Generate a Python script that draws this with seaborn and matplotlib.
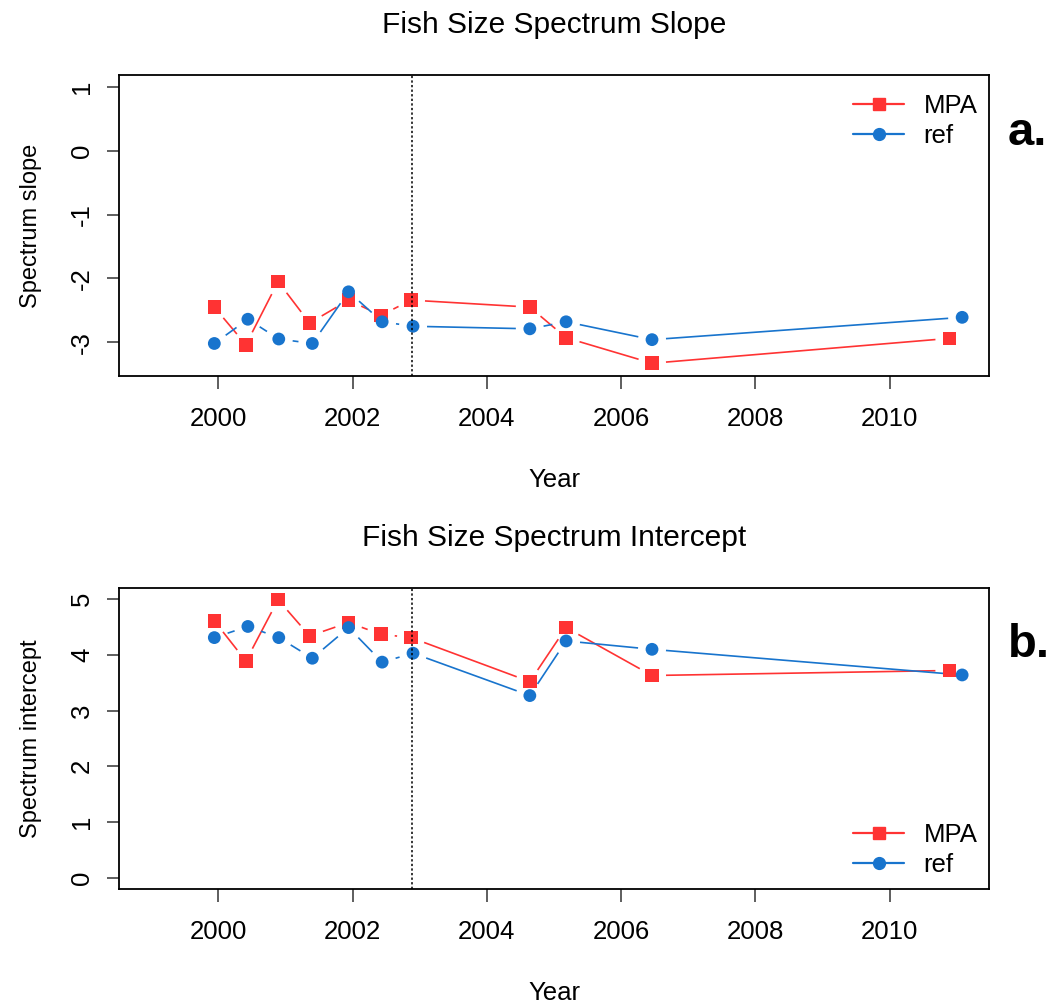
import numpy as np
import matplotlib
matplotlib.use('Agg')
import matplotlib.pyplot as plt
import seaborn as sns
from matplotlib.lines import Line2D

# Survey dates (decimal years) and spectrum estimates
mpa_year = [1999.94, 2000.41, 2000.89, 2001.36, 2001.94, 2002.42, 2002.87,
            2004.64, 2005.18, 2006.46, 2010.89]
ref_year = [1999.94, 2000.44, 2000.90, 2001.40, 2001.94, 2002.44, 2002.90,
            2004.64, 2005.18, 2006.46, 2011.08]

mpa_slope = [-2.45, -3.04, -2.05, -2.70, -2.34, -2.58, -2.34, -2.45, -2.93, -3.33, -2.94]
ref_slope = [-3.02, -2.64, -2.95, -3.02, -2.21, -2.68, -2.75, -2.79, -2.68, -2.96, -2.61]

mpa_intercept = [4.61, 3.89, 4.99, 4.34, 4.58, 4.37, 4.31, 3.52, 4.49, 3.63, 3.72]
ref_intercept = [4.31, 4.51, 4.31, 3.94, 4.49, 3.87, 4.03, 3.27, 4.25, 4.10, 3.64]

mpa_start = 2002.88  # vertical reference line

# Style
sns.set_theme(style='ticks')
plt.rcParams['font.family'] = ['Liberation Sans', 'DejaVu Sans']
plt.rcParams['axes.unicode_minus'] = False
for k in ['text.color', 'axes.labelcolor', 'xtick.labelcolor', 'ytick.labelcolor']:
    plt.rcParams[k] = 'black'
red = '#FF3333'
blue = '#1874CD'
W, H = 1053, 1005

fig = plt.figure(figsize=(W / 100, H / 100), dpi=100, facecolor='white')
ax1 = fig.add_axes([119 / W, 1 - 376 / H, 870 / W, 301 / H])
ax2 = fig.add_axes([119 / W, 1 - 889 / H, 870 / W, 301 / H])


def gapped_line(ax, x, y, color, gap=14):
    # R type="b": line segments stop short of each point
    pts = ax.transData.transform(np.column_stack([x, y]))
    inv = ax.transData.inverted()
    for p0, p1 in zip(pts[:-1], pts[1:]):
        d = p1 - p0
        L = np.hypot(*d)
        if L <= 2 * gap:
            continue
        u = d / L
        seg = inv.transform(np.array([p0 + u * gap, p1 - u * gap]))
        ax.plot(seg[:, 0], seg[:, 1], color=color, lw=1.2, solid_capstyle='butt')


def panel(ax, mpa, ref, ylim, yticks, title, ylabel, legend_top):
    ax.set_xlim(1998.52, 2011.48)
    ax.set_ylim(*ylim)
    gapped_line(ax, mpa_year, mpa, red)
    sns.scatterplot(x=mpa_year, y=mpa, marker='s', color=red, s=95,
                    edgecolor='none', ax=ax, zorder=3)
    gapped_line(ax, ref_year, ref, blue)
    sns.scatterplot(x=ref_year, y=ref, marker='o', color=blue, s=85,
                    edgecolor='none', ax=ax, zorder=4)
    ax.axvline(mpa_start, color='black', ls=(0, (1.5, 1.5)), lw=1.1, zorder=5)

    ax.set_xticks([2000, 2002, 2004, 2006, 2008, 2010])
    ax.set_yticks(yticks)
    ax.tick_params(axis='both', labelsize=18.5, length=9, width=1.1,
                   color='#333333', direction='out')
    ax.tick_params(axis='x', pad=13)
    ax.tick_params(axis='y', pad=9, labelrotation=90)
    for lab in ax.get_yticklabels():
        lab.set_va('center')
    for s in ax.spines.values():
        s.set_visible(True)
        s.set_linewidth(1.3)
        s.set_color('black')
    ax.set_title(title, fontsize=21.5, pad=30)
    ax.set_xlabel('Year', fontsize=18.5, labelpad=27)
    ax.set_ylabel(ylabel, fontsize=17, labelpad=20)

    handles = [Line2D([], [], color=red, marker='s', markersize=9, lw=1.6),
               Line2D([], [], color=blue, marker='o', markersize=8.5, lw=1.6)]
    ax.legend(handles, ['MPA', 'ref'], loc='upper left', frameon=False,
              bbox_to_anchor=(853 / W, 1 - legend_top / H),
              bbox_transform=fig.transFigure, fontsize=18.5, borderpad=0,
              borderaxespad=0, labelspacing=0.22, handlelength=2.0,
              handletextpad=0.75)


panel(ax1, mpa_slope, ref_slope, (-3.53, 1.19), [1, 0, -1, -2, -3],
      'Fish Size Spectrum Slope', 'Spectrum slope', 94)
panel(ax2, mpa_intercept, ref_intercept, (-0.2, 5.2), [0, 1, 2, 3, 4, 5],
      'Fish Size Spectrum Intercept', 'Spectrum intercept', 823)

fig.text(1008 / W, 1 - 133 / H, 'a.', fontsize=34, fontweight='bold',
         ha='left', va='center')
fig.text(1008 / W, 1 - 645 / H, 'b.', fontsize=34, fontweight='bold',
         ha='left', va='center')

fig.savefig('out.png', dpi=100, facecolor='white')
